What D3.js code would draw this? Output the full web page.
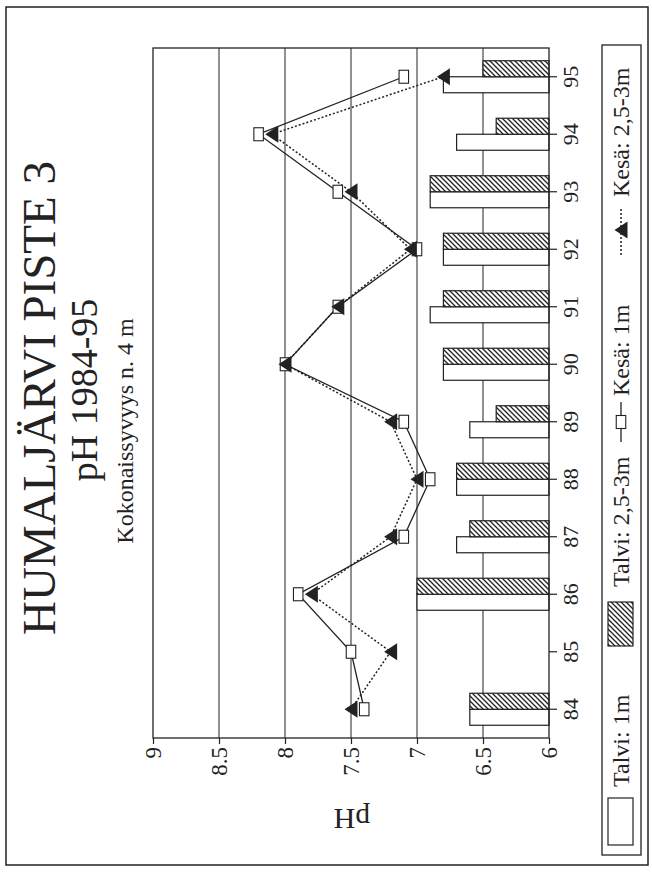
<!DOCTYPE html>
<html><head><meta charset="utf-8">
<script src="https://cdn.jsdelivr.net/npm/d3@7"></script>
<style>
html,body{margin:0;padding:0;background:#fff;}
svg text{font-family:"Liberation Serif","Times New Roman",serif !important;fill:#222;}
</style></head>
<body>
<svg id="c" width="652" height="876"></svg>
<script>
// ---- data ----
const years = ["84","85","86","87","88","89","90","91","92","93","94","95"];
const talvi1m  = [6.6, null, 7.0, 6.7, 6.7, 6.6, 6.8, 6.9, 6.8, 6.9, 6.7, 6.8];
const talvi25m = [6.6, null, 7.0, 6.6, 6.7, 6.4, 6.8, 6.8, 6.8, 6.9, 6.4, 6.5];
const kesa1m   = [7.4, 7.5, 7.9, 7.1, 6.9, 7.1, 8.0, 7.6, 7.0, 7.6, 8.2, 7.1];
const kesa25m  = [7.5, 7.2, 7.8, 7.2, 7.0, 7.2, 8.0, 7.6, 7.05, 7.5, 8.1, 6.8];
const phTicks  = [6, 6.5, 7, 7.5, 8, 8.5, 9];
const seriesNames = ["Talvi: 1m", "Talvi: 2,5-3m", "Kesä: 1m", "Kesä: 2,5-3m"];
const titleText = "HUMALJÄRVI PISTE 3";
const subTitle = "pH 1984-95";
const depthText = "Kokonaissyvyys n. 4 m";
const yTitle = "pH";

const ink = "#222";
const serif = '"Liberation Serif","Times New Roman",serif';
const svg = d3.select("#c");
const defs = svg.append("defs");
const pat = defs.append("pattern").attr("id","hatch").attr("patternUnits","userSpaceOnUse")
  .attr("width",5).attr("height",5);
pat.append("rect").attr("width",5).attr("height",5).attr("fill","#fff");
pat.append("path").attr("d","M-1,1 L1,-1 M0,5 L5,0 M4,6 L6,4").attr("stroke",ink).attr("stroke-width",1.3);

// whole chart is drawn unrotated, then turned -90deg
const g = svg.append("g").attr("transform","translate(0,876) rotate(-90)");

// outer frame
g.append("rect").attr("x",11).attr("y",6).attr("width",858).attr("height",642)
  .attr("fill","none").attr("stroke",ink).attr("stroke-width",1.5);

const x = d3.scaleBand().domain(years).range([138, 828]).paddingInner(0.443).paddingOuter(0.2215);
const xs = d3.scaleBand().domain(["t1","t25"]).range([0, x.bandwidth()]);
const y = d3.scaleLinear().domain([6, 9]).range([549, 153]);

// gridlines
g.append("g").selectAll("line").data(phTicks.filter(d => d > 6 && d < 9)).join("line")
  .attr("x1",138).attr("x2",828).attr("y1",d=>y(d)).attr("y2",d=>y(d))
  .attr("stroke",ink).attr("stroke-width",1);

// bars
const barData = [];
years.forEach((yr,i) => {
  if (talvi1m[i] != null) barData.push({yr, k:"t1", v:talvi1m[i]});
  if (talvi25m[i] != null) barData.push({yr, k:"t25", v:talvi25m[i]});
});
g.append("g").selectAll("rect").data(barData).join("rect")
  .attr("x", d => x(d.yr) + xs(d.k)).attr("width", xs.bandwidth())
  .attr("y", d => y(d.v)).attr("height", d => y(6) - y(d.v))
  .attr("fill", d => d.k === "t1" ? "#fff" : "url(#hatch)")
  .attr("stroke", ink).attr("stroke-width", 1.2);

// plot border
g.append("rect").attr("x",138).attr("y",153).attr("width",690).attr("height",396)
  .attr("fill","none").attr("stroke",ink).attr("stroke-width",1.3);

// axes
const xAxis = g.append("g").attr("transform","translate(0,549)")
  .call(d3.axisBottom(x).tickSize(8).tickPadding(5));
xAxis.attr("font-family", null);
xAxis.select(".domain").remove();
xAxis.selectAll("line").attr("stroke",ink).attr("stroke-width",1.2);
xAxis.selectAll("text").attr("font-size",22).style("font-family",serif).attr("fill",ink);

const yAxis = g.append("g").attr("transform","translate(138,0)")
  .call(d3.axisLeft(y).tickValues(phTicks).tickFormat(d3.format("")).tickSize(6).tickPadding(3));
yAxis.attr("font-family", null);
yAxis.select(".domain").remove();
yAxis.selectAll("line").attr("stroke",ink).attr("stroke-width",1.2);
yAxis.selectAll("text").attr("font-size",23).style("font-family",serif).attr("fill",ink);

// lines
const cx = yr => x(yr) + x.bandwidth()/2;
const line = d3.line().x(d => cx(d.yr)).y(d => y(d.v));
const k1 = years.map((yr,i) => ({yr, v:kesa1m[i]}));
const k25 = years.map((yr,i) => ({yr, v:kesa25m[i]}));
g.append("path").datum(k1).attr("d",line).attr("fill","none").attr("stroke",ink).attr("stroke-width",1.3);
g.append("path").datum(k25).attr("d",line).attr("fill","none").attr("stroke",ink)
  .attr("stroke-width",1.5).attr("stroke-dasharray","2,2");

const triPath = "M0,-6.5 L8.5,6.5 L-8.5,6.5 Z";
g.append("g").selectAll("rect").data(k1).join("rect")
  .attr("x", d => cx(d.yr) - 6.5).attr("y", d => y(d.v) - 4.75)
  .attr("width",13).attr("height",9.5).attr("fill","#fff").attr("stroke",ink).attr("stroke-width",1.1);
g.append("g").selectAll("path").data(k25).join("path")
  .attr("transform", d => `translate(${cx(d.yr)},${y(d.v)})`).attr("d", triPath).attr("fill",ink);

// titles
g.append("text").attr("x",478).attr("y",55).attr("text-anchor","middle").attr("font-size",47).text(titleText);
g.append("text").attr("x",486).attr("y",97).attr("text-anchor","middle").attr("font-size",38).text(subTitle);
g.append("text").attr("x",445).attr("y",133).attr("text-anchor","middle").attr("font-size",24).text(depthText);
g.append("text").attr("transform","translate(67,352) rotate(-90)").attr("text-anchor","middle")
  .attr("font-size",30).text(yTitle);

// legend
g.append("rect").attr("x",21).attr("y",602).attr("width",810).attr("height",39)
  .attr("fill","none").attr("stroke",ink).attr("stroke-width",1.3);
const lg = g.append("g");
lg.append("rect").attr("x",31).attr("y",608).attr("width",47).attr("height",25).attr("fill","#fff").attr("stroke",ink).attr("stroke-width",1.2);
lg.append("text").attr("x",89).attr("y",629).attr("font-size",24).text(seriesNames[0]);
lg.append("rect").attr("x",230).attr("y",608).attr("width",44).attr("height",25).attr("fill","url(#hatch)").attr("stroke",ink).attr("stroke-width",1.2);
lg.append("text").attr("x",289).attr("y",629).attr("font-size",24).text(seriesNames[1]);
lg.append("line").attr("x1",434).attr("x2",474).attr("y1",621).attr("y2",621).attr("stroke",ink).attr("stroke-width",1.3);
lg.append("rect").attr("x",447.5).attr("y",616.25).attr("width",13).attr("height",9.5).attr("fill","#fff").attr("stroke",ink).attr("stroke-width",1.1);
lg.append("text").attr("x",480).attr("y",629).attr("font-size",24).text(seriesNames[2]);
lg.append("line").attr("x1",621).attr("x2",668).attr("y1",621).attr("y2",621).attr("stroke",ink).attr("stroke-width",1.5).attr("stroke-dasharray","2,2");
lg.append("path").attr("transform","translate(646,621)").attr("d",triPath).attr("fill",ink);
lg.append("text").attr("x",679).attr("y",629).attr("font-size",24).text(seriesNames[3]);
</script>
</body></html>
